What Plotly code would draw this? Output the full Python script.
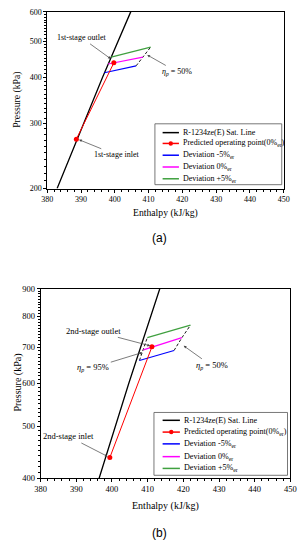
import math
import plotly.graph_objects as go

W, H = 306, 550

# ---------------- data ----------------
sat_h = [382.9, 396.4, 404.7, 413.4]
sat_p = [200, 400, 600, 900]

# panel (a): 1st stage
a_pred_h = [388.6, 399.7]
a_pred_p = [272, 437]
a_blue_h = [396.9, 406.3]
a_blue_p = [411, 429]
a_mag_h = [398.0, 408.3]
a_mag_p = [434, 453]
a_green_h = [398.9, 410.6]
a_green_p = [453, 482]
a_eta50_h = [406.3, 408.3, 410.6]
a_eta50_p = [429, 453, 482]

# panel (b): 2nd stage
b_pred_h = [399.4, 411.2]
b_pred_p = [437, 702]
b_blue_h = [407.7, 417.4]
b_blue_p = [662, 691]
b_mag_h = [408.8, 419.6]
b_mag_p = [693, 730]
b_green_h = [409.9, 422.0]
b_green_p = [730, 770]
b_eta50_h = [417.4, 419.6, 422.0]
b_eta50_p = [691, 730, 770]
b_eta95_h = [407.7, 408.8, 409.9]
b_eta95_p = [662, 693, 730]

x_ticks = [380, 390, 400, 410, 420, 430, 440, 450]
a_yticks = [200, 300, 400, 500, 600]
b_yticks = [400, 500, 600, 700, 800, 900]

legend_labels = ["R-1234ze(E) Sat. Line",
                 "Predicted operating point(0%<sub>er</sub>)",
                 "Deviation -5%<sub>er</sub>",
                 "Deviation 0%<sub>er</sub>",
                 "Deviation +5%<sub>er</sub>"]

BLACK = "#000000"
RED = "#FF0000"
BLUE = "#0000FF"
MAG = "#FF00FF"
GREEN = "#3FA03F"
legend_colors = [BLACK, RED, BLUE, MAG, GREEN]

SERIF = "Liberation Serif"


def px(x):
    return x / W


def py(y):
    return 1 - y / H


fig = go.Figure()


def add_panel(xa, ya, pred_h, pred_p, blue, mag, green, dashed):
    fig.add_trace(go.Scatter(x=sat_h, y=sat_p, mode="lines", xaxis=xa, yaxis=ya,
                             line=dict(color=BLACK, width=1.3), showlegend=False))
    for (hh, pp) in dashed:
        fig.add_trace(go.Scatter(x=hh, y=pp, mode="lines", xaxis=xa, yaxis=ya,
                                 line=dict(color=BLACK, width=0.9, dash="3px,2px"),
                                 showlegend=False))
    for (hh, pp), c in zip([blue, mag, green], [BLUE, MAG, GREEN]):
        fig.add_trace(go.Scatter(x=hh, y=pp, mode="lines", xaxis=xa, yaxis=ya,
                                 line=dict(color=c, width=1.2), showlegend=False))
    fig.add_trace(go.Scatter(x=pred_h, y=pred_p, mode="lines+markers", xaxis=xa, yaxis=ya,
                             line=dict(color=RED, width=1),
                             marker=dict(color=RED, size=5),
                             showlegend=False))


add_panel("x", "y", a_pred_h, a_pred_p,
          (a_blue_h, a_blue_p), (a_mag_h, a_mag_p), (a_green_h, a_green_p),
          [(a_eta50_h, a_eta50_p)])
add_panel("x2", "y2", b_pred_h, b_pred_p,
          (b_blue_h, b_blue_p), (b_mag_h, b_mag_p), (b_green_h, b_green_p),
          [(b_eta50_h, b_eta50_p), (b_eta95_h, b_eta95_p)])


def xaxis_cfg(dom, anchor, fs):
    return dict(domain=dom, anchor=anchor, range=[380, 450], tickvals=x_ticks,
                ticks="outside", ticklen=3, tickwidth=0.8, tickcolor=BLACK,
                showline=True, linecolor=BLACK, linewidth=1, mirror=True,
                showgrid=False, zeroline=False,
                tickfont=dict(family=SERIF, size=fs, color=BLACK),
                minor=dict(dtick=2, ticks="outside", ticklen=2, tickcolor=BLACK, showgrid=False))


def yaxis_cfg(dom, anchor, lo, hi, majors, fs):
    minors = [v for v in range(lo, hi + 1, 10) if v not in majors]
    return dict(domain=dom, anchor=anchor, type="log",
                range=[math.log10(lo), math.log10(hi)], tickvals=majors,
                ticktext=[str(v) for v in majors],
                ticks="outside", ticklen=3, tickwidth=0.8, tickcolor=BLACK,
                showline=True, linecolor=BLACK, linewidth=1, mirror=True,
                showgrid=False, zeroline=False,
                tickfont=dict(family=SERIF, size=fs, color=BLACK),
                minor=dict(tickmode="array", tickvals=minors, ticks="outside",
                           ticklen=2, tickcolor=BLACK, showgrid=False))


shapes = []
annotations = []


def add_legend(x0, x1, y0, y1, ys, fs, lx0, lx1, tx):
    shapes.append(dict(type="rect", xref="paper", yref="paper",
                       x0=px(x0), x1=px(x1), y0=py(y1), y1=py(y0),
                       line=dict(color="#555555", width=0.8), fillcolor="white", layer="above"))
    for yy, lab, col in zip(ys, legend_labels, legend_colors):
        shapes.append(dict(type="line", xref="paper", yref="paper",
                           x0=px(lx0), x1=px(lx1), y0=py(yy), y1=py(yy),
                           line=dict(color=col, width=1.5), layer="above"))
        if col == RED:
            cx = (lx0 + lx1) / 2
            shapes.append(dict(type="circle", xref="paper", yref="paper",
                               x0=px(cx - 2.3), x1=px(cx + 2.3), y0=py(yy + 2.3), y1=py(yy - 2.3),
                               fillcolor=RED, line=dict(color=RED, width=0), layer="above"))
        annotations.append(dict(text=lab, xref="paper", yref="paper", x=px(tx), y=py(yy),
                                xanchor="left", yanchor="middle", showarrow=False,
                                font=dict(family=SERIF, size=fs, color=BLACK)))


add_legend(155, 287, 121, 183, [130, 141, 153, 165, 177], 8, 163, 180, 182)
add_legend(154, 293, 415, 479, [423, 435, 447, 460, 472], 8.1, 163, 181, 183)


def arrow(text, x, y, ax, ay, xr, yr, fs):
    annotations.append(dict(text=text, x=x, y=y, xref=xr, yref=yr, ax=ax, ay=ay,
                            showarrow=True, arrowhead=2, arrowsize=0.8, arrowwidth=0.7,
                            arrowcolor="#444444", standoff=0,
                            font=dict(family=SERIF, size=fs, color=BLACK)))


arrow("1st-stage outlet", 398.8, math.log10(448), -29, -21, "x", "y", 8)
arrow("<i>η</i><sub><i>p</i></sub> = 50%", 409.6, math.log10(459), 30, 17, "x", "y", 8)
arrow("1st-stage inlet", 389.4, math.log10(271), 37, 15, "x", "y", 8)

arrow("2nd-stage outlet", 410.7, math.log10(705), -57, -15, "x2", "y2", 8.5)
arrow("<i>η</i><sub><i>p</i></sub> = 95%", 408.5, math.log10(685), -49, 15, "x2", "y2", 8.5)
arrow("<i>η</i><sub><i>p</i></sub> = 50%", 420.1, math.log10(705), 28, 20, "x2", "y2", 8.5)
arrow("2nd-stage inlet", 398.8, math.log10(439), -39, -20, "x2", "y2", 8.5)


def label(text, x, y, fs, angle=0, family=SERIF):
    annotations.append(dict(text=text, xref="paper", yref="paper", x=px(x), y=py(y),
                            xanchor="center", yanchor="middle", showarrow=False,
                            textangle=angle, font=dict(family=family, size=fs, color=BLACK)))


label("Enthalpy (kJ/kg)", 166, 212, 9.7)
label("Pressure (kPa)", 12, 97, 9.7, -90)
label("(a)", 160, 237, 12, family="Liberation Sans")

label("Enthalpy (kJ/kg)", 166, 510, 10)
label("Pressure (kPa)", 12, 385, 10, -90)
label("(b)", 160, 538, 12, family="Liberation Sans")

fig.update_layout(
    width=W, height=H, autosize=False,
    margin=dict(l=0, r=0, t=0, b=0),
    paper_bgcolor="white", plot_bgcolor="white",
    showlegend=False,
    xaxis=xaxis_cfg([px(43), px(289)], "y", 8),
    yaxis=yaxis_cfg([py(187), py(7)], "x", 200, 600, a_yticks, 8),
    xaxis2=xaxis_cfg([px(36), px(296)], "y2", 8.5),
    yaxis2=yaxis_cfg([py(482), py(289)], "x2", 400, 900, b_yticks, 8.5),
    shapes=shapes,
    annotations=annotations,
)

fig.write_html("out.html",
               config={"displayModeBar": False},
               post_script="document.body.style.margin='0';document.body.style.overflow='hidden';")
